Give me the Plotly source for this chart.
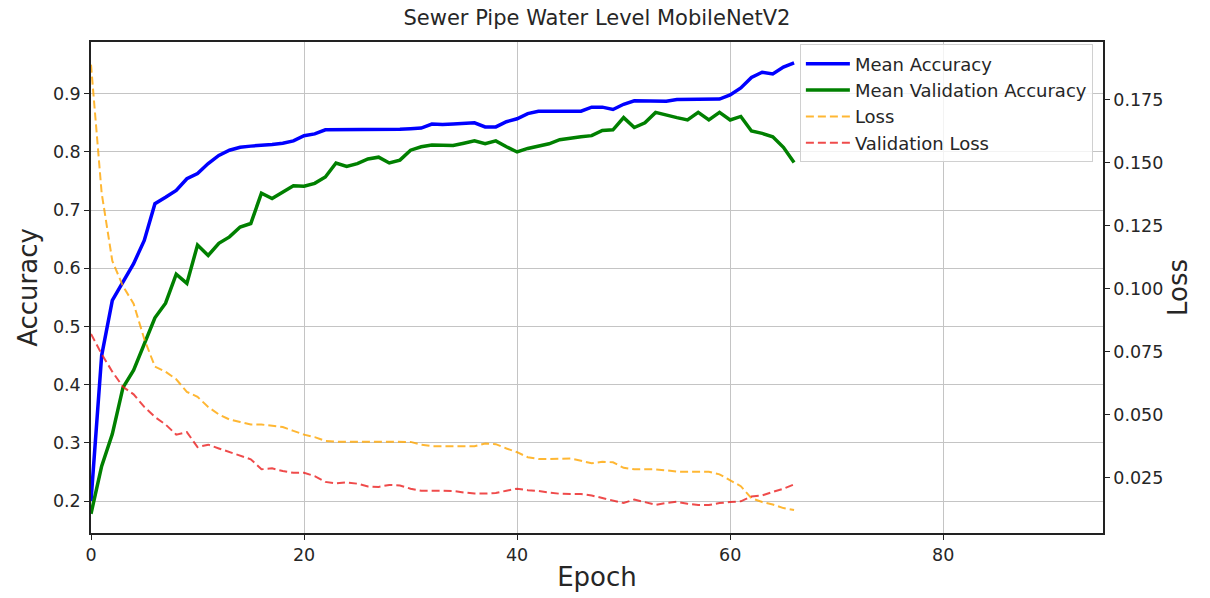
import plotly.graph_objects as go

epochs = list(range(67))

mean_accuracy = [
    0.200, 0.450, 0.545, 0.576, 0.608, 0.648, 0.711, 0.722, 0.734, 0.754,
    0.763, 0.780, 0.794, 0.803, 0.808, 0.810, 0.811, 0.813, 0.815, 0.819,
    0.828, 0.831, 0.838, 0.838, 0.839, 0.839, 0.839, 0.839, 0.839, 0.839,
    0.840, 0.841, 0.848, 0.847, 0.848, 0.849, 0.850, 0.843, 0.843, 0.852,
    0.857, 0.866, 0.870, 0.870, 0.870, 0.869, 0.870, 0.877, 0.877, 0.873,
    0.882, 0.888, 0.888, 0.888, 0.887, 0.890, 0.890, 0.890, 0.890, 0.891,
    0.898, 0.910, 0.928, 0.937, 0.934, 0.946, 0.953,
]

mean_val_accuracy = [
    0.178, 0.260, 0.315, 0.395, 0.425, 0.470, 0.515, 0.540, 0.590, 0.574,
    0.640, 0.622, 0.643, 0.654, 0.671, 0.677, 0.729, 0.720, 0.731, 0.742,
    0.741, 0.746, 0.757, 0.781, 0.775, 0.780, 0.788, 0.791, 0.781, 0.786,
    0.803, 0.809, 0.812, 0.811, 0.811, 0.815, 0.819, 0.814, 0.819, 0.809,
    0.800, 0.806, 0.810, 0.814, 0.821, 0.824, 0.826, 0.828, 0.837, 0.838,
    0.859, 0.842, 0.850, 0.868, 0.863, 0.859, 0.855, 0.868, 0.855, 0.868,
    0.855, 0.861, 0.836, 0.832, 0.826, 0.808, 0.782,
]

loss = [
    0.189, 0.138, 0.111, 0.101, 0.094, 0.080, 0.069, 0.067, 0.064, 0.059,
    0.057, 0.053, 0.050, 0.048, 0.047, 0.046, 0.046, 0.0455, 0.045, 0.0435,
    0.042, 0.041, 0.0395, 0.0392, 0.0392, 0.0391, 0.0391, 0.0391, 0.0391, 0.0391,
    0.0391, 0.038, 0.0374, 0.0374, 0.0374, 0.0374, 0.0374, 0.0385, 0.0382, 0.0365,
    0.0350, 0.0330, 0.0323, 0.0323, 0.0324, 0.0325, 0.0316, 0.0306, 0.0312, 0.0310,
    0.0288, 0.0282, 0.0282, 0.0282, 0.0278, 0.0273, 0.0272, 0.0272, 0.0272, 0.0262,
    0.0240, 0.0215, 0.0167, 0.0152, 0.0142, 0.0128, 0.0120,
]

val_loss = [
    0.082, 0.074, 0.067, 0.061, 0.058, 0.053, 0.049, 0.046, 0.042, 0.043,
    0.037, 0.038, 0.0365, 0.035, 0.0338, 0.0322, 0.0282, 0.0286, 0.0275, 0.0268,
    0.0268, 0.0255, 0.0232, 0.0226, 0.0230, 0.0225, 0.0214, 0.0212, 0.0220, 0.0218,
    0.0205, 0.0197, 0.0197, 0.0197, 0.0196, 0.0190, 0.0186, 0.0186, 0.0188, 0.0197,
    0.0205, 0.0199, 0.0196, 0.0190, 0.0185, 0.0184, 0.0184, 0.0178, 0.0168, 0.0160,
    0.0148, 0.0162, 0.0150, 0.0141, 0.0148, 0.0153, 0.0145, 0.0140, 0.0140, 0.0148,
    0.0152, 0.0155, 0.0174, 0.0178, 0.0192, 0.0205, 0.0222,
]

x_ticks = [0, 20, 40, 60, 80]
acc_ticks = [0.2, 0.3, 0.4, 0.5, 0.6, 0.7, 0.8, 0.9]
loss_ticks = [0.025, 0.05, 0.075, 0.1, 0.125, 0.15, 0.175]
loss_tick_text = ["0.025", "0.050", "0.075", "0.100", "0.125", "0.150", "0.175"]

FONT = "DejaVu Sans"
TXT = "#262626"
TICK = 17.5
LABEL = 26

fig = go.Figure()
fig.add_trace(go.Scatter(x=epochs, y=mean_accuracy, mode="lines", name="Mean Accuracy",
                         line=dict(color="#0000ff", width=3.5), yaxis="y"))
fig.add_trace(go.Scatter(x=epochs, y=mean_val_accuracy, mode="lines", name="Mean Validation Accuracy",
                         line=dict(color="#008000", width=3.5), yaxis="y"))
fig.add_trace(go.Scatter(x=epochs, y=loss, mode="lines", name="Loss",
                         line=dict(color="rgba(255,165,0,0.8)", width=2, dash="8px,4px"), yaxis="y2"))
fig.add_trace(go.Scatter(x=epochs, y=val_loss, mode="lines", name="Validation Loss",
                         line=dict(color="rgba(235,30,30,0.8)", width=2, dash="8px,4px"), yaxis="y2"))

fig.update_layout(
    width=1210, height=598,
    margin=dict(l=91, r=107, t=42, b=65),
    paper_bgcolor="white", plot_bgcolor="white",
    font=dict(family=FONT, color=TXT, size=TICK),
    showlegend=True,
    title=dict(text="Sewer Pipe Water Level MobileNetV2", x=0.5, xref="paper", xanchor="center",
               y=1 - 18 / 598, yref="container", yanchor="middle",
               font=dict(family=FONT, size=21, color=TXT)),
    xaxis=dict(range=[0, 95], tickvals=x_ticks, ticks="outside", ticklen=5, tickwidth=1,
               tickcolor="#222", showgrid=True, gridcolor="#c4c4c4", gridwidth=1, zeroline=False,
               showline=True, linecolor="#222", linewidth=1.5, mirror=True,
               tickfont=dict(size=TICK, color=TXT),
               title=dict(text="Epoch", font=dict(size=LABEL, color=TXT), standoff=4)),
    yaxis=dict(range=[0.145, 0.989], tickvals=acc_ticks, ticks="outside", ticklen=5, tickwidth=1,
               tickcolor="#222", showgrid=True, gridcolor="#c4c4c4", gridwidth=1, zeroline=False,
               showline=True, linecolor="#222", linewidth=1.5, mirror=True,
               tickfont=dict(size=TICK, color=TXT),
               title=dict(text="Accuracy", font=dict(size=LABEL, color=TXT), standoff=8)),
    yaxis2=dict(range=[0.0029, 0.198], tickvals=loss_ticks, ticktext=loss_tick_text,
                overlaying="y", side="right", ticks="outside", ticklen=5, tickwidth=1,
                tickcolor="#222", showgrid=False, zeroline=False,
                showline=True, linecolor="#222", linewidth=1.5,
                tickfont=dict(size=TICK, color=TXT),
                title=dict(text="Loss", font=dict(size=LABEL, color=TXT), standoff=6)),
    legend=dict(x=0.99, xanchor="right", y=0.995, yanchor="top",
                bgcolor="rgba(255,255,255,0.8)", bordercolor="#d0d0d0", borderwidth=1,
                font=dict(family=FONT, size=18, color=TXT), tracegroupgap=0,
                itemwidth=44),
)

fig.write_html("out.html")
